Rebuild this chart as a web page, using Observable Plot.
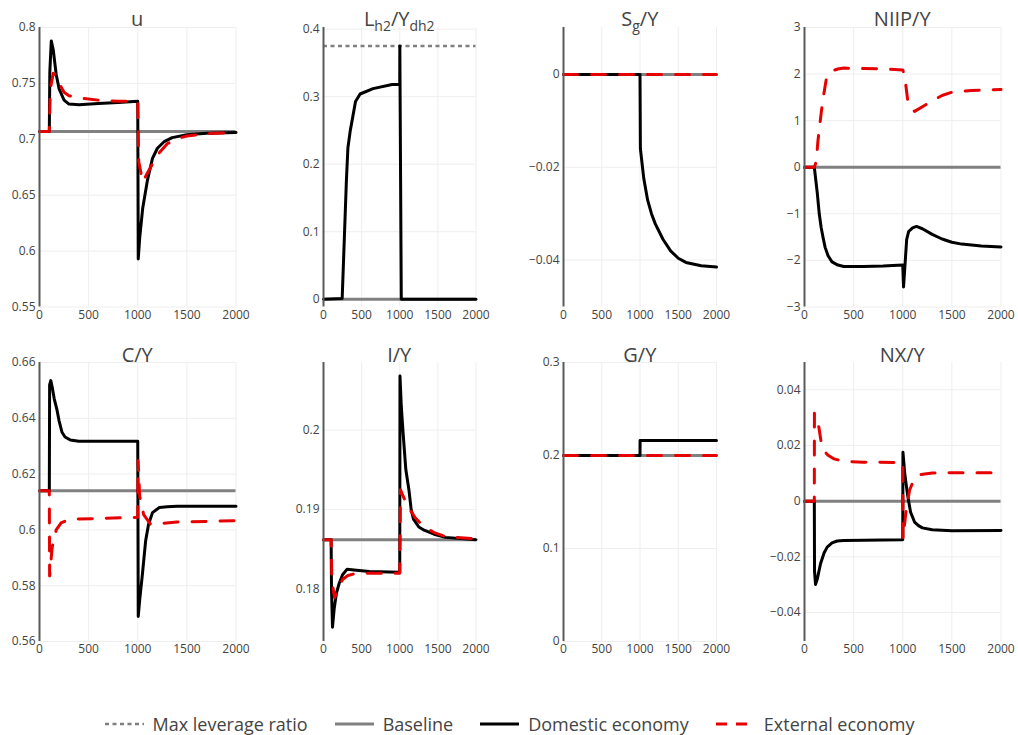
<!DOCTYPE html>
<html>
<head>
<meta charset="utf-8">
<script src="https://cdn.jsdelivr.net/npm/d3@7"></script>
<script src="https://cdn.jsdelivr.net/npm/@observablehq/plot@0.6"></script>
<style>
  body { margin: 0; background: #fff; font-family: "Open Sans", sans-serif; }
  #root { position: relative; width: 1018px; height: 735px; overflow: hidden; background: #fff; }
  .panel { position: absolute; }
  .title { position: absolute; text-align: center; font-size: 20px; line-height: 20px; color: #444; white-space: nowrap; }
  .title sub { font-size: 14px; vertical-align: -5px; line-height: 0; }
  #legend { position: absolute; left: 0; width: 1018px; top: 712px; height: 24px; display: flex; justify-content: center; align-items: center; font-size: 18px; line-height: 24px; color: #444; }
  #legend .item { display: flex; align-items: center; margin: 0 13px; }
  #legend svg { margin-right: 9px; }
</style>
</head>
<body>
<div id="root"></div>
<script>
// ---------- data ----------
const xTicks = [0, 500, 1000, 1500, 2000];

// u (capacity utilisation)
const uBase = 0.707;
const uDomT = [0, 100, 105, 120, 140, 170, 200, 250, 300, 400, 600, 800, 1000, 1005, 1020, 1050, 1100, 1150, 1200, 1270, 1350, 1500, 1700, 2000];
const uDomV = [0.707, 0.707, 0.76, 0.788, 0.78, 0.758, 0.745, 0.735, 0.7315, 0.731, 0.732, 0.733, 0.734, 0.593, 0.612, 0.638, 0.664, 0.683, 0.692, 0.698, 0.7015, 0.704, 0.7055, 0.706];
const uExtT = [0, 100, 110, 140, 170, 200, 250, 300, 400, 600, 800, 1000, 1010, 1050, 1100, 1150, 1200, 1300, 1400, 1500, 1700, 2000];
const uExtV = [0.707, 0.707, 0.745, 0.759, 0.757, 0.75, 0.742, 0.739, 0.737, 0.735, 0.734, 0.734, 0.68, 0.662, 0.67, 0.678, 0.686, 0.696, 0.7005, 0.703, 0.705, 0.706];

// Lh2/Ydh2
const levBase = 0;
const levMax = 0.375;
const levDomT = [0, 245, 300, 320, 350, 420, 480, 650, 900, 1000, 1001, 1020, 2000];
const levDomV = [0, 0.001, 0.175, 0.224, 0.249, 0.293, 0.304, 0.312, 0.318, 0.3185, 0.375, 0, 0];

// Sg/Y
const sgBase = 0;
const sgDomT = [0, 1000, 1005, 1050, 1100, 1150, 1200, 1300, 1400, 1500, 1600, 1800, 2000];
const sgDomV = [0, 0, -0.016, -0.0225, -0.0271, -0.030, -0.0322, -0.0355, -0.038, -0.0396, -0.0405, -0.0412, -0.0415];
const sgExtT = [0, 2000];
const sgExtV = [0, 0];

// NIIP/Y
const niipBase = 0;
const niipDomT = [0, 100, 130, 150, 170, 190, 210, 240, 280, 340, 400, 600, 800, 1000, 1008, 1040, 1060, 1100, 1140, 1200, 1300, 1400, 1500, 1600, 1800, 2000];
const niipDomV = [0, 0, -0.55, -1.0, -1.3, -1.52, -1.72, -1.9, -2.03, -2.1, -2.13, -2.13, -2.12, -2.1, -2.57, -1.55, -1.38, -1.3, -1.27, -1.32, -1.44, -1.54, -1.61, -1.65, -1.69, -1.71];
const niipExtT = [0, 100, 120, 136, 155, 176, 195, 221, 271, 340, 400, 600, 800, 1000, 1020, 1050, 1080, 1120, 1200, 1320, 1400, 1500, 1700, 2000];
const niipExtV = [0, 0, 0.12, 0.55, 0.9, 1.27, 1.55, 1.88, 2.06, 2.11, 2.13, 2.12, 2.11, 2.09, 1.95, 1.45, 1.27, 1.2, 1.3, 1.45, 1.54, 1.61, 1.65, 1.67];

// C/Y
const cBase = 0.614;
const cDomT = [0, 100, 103, 115, 130, 150, 178, 200, 229, 260, 314, 400, 1000, 1005, 1020, 1047, 1080, 1110, 1150, 1220, 1300, 1400, 1600, 2000];
const cDomV = [0.614, 0.614, 0.652, 0.6535, 0.651, 0.647, 0.643, 0.639, 0.635, 0.6333, 0.6322, 0.6318, 0.6318, 0.569, 0.575, 0.584, 0.596, 0.602, 0.6062, 0.608, 0.6083, 0.6085, 0.6085, 0.6085];
const cExtT = [0, 100, 103, 130, 170, 220, 300, 1000, 1003, 1020, 1060, 1130, 1200, 1400, 2000];
const cExtV = [0.614, 0.614, 0.5835, 0.594, 0.600, 0.6025, 0.6038, 0.6045, 0.6248, 0.612, 0.6055, 0.602, 0.6022, 0.6028, 0.6033];

// I/Y
const iBase = 0.1862;
const iDomT = [0, 100, 105, 118, 140, 170, 205, 250, 310, 400, 600, 1000, 1003, 1020, 1045, 1080, 1120, 1150, 1180, 1250, 1320, 1450, 1600, 2000];
const iDomV = [0.1862, 0.1862, 0.18, 0.1752, 0.1775, 0.1795, 0.1807, 0.1818, 0.1825, 0.1824, 0.1822, 0.1821, 0.2068, 0.203, 0.1995, 0.195, 0.1925, 0.190, 0.1888, 0.1878, 0.1874, 0.1869, 0.1865, 0.1862];
const iExtT = [0, 100, 110, 145, 180, 250, 320, 400, 600, 1000, 1010, 1030, 1100, 1200, 1300, 1450, 1600, 2000];
const iExtV = [0.1862, 0.1862, 0.181, 0.1789, 0.1798, 0.1812, 0.1817, 0.1819, 0.182, 0.182, 0.1925, 0.192, 0.1905, 0.189, 0.188, 0.1871, 0.1866, 0.1863];

// G/Y
const gBase = 0.2;
const gDomT = [0, 1000, 1001, 2000];
const gDomV = [0.2, 0.2, 0.216, 0.216];
const gExtT = [0, 2000];
const gExtV = [0.2, 0.2];

// NX/Y
const nxBase = 0;
const nxDomT = [0, 100, 102, 112, 130, 163, 200, 231, 280, 333, 400, 600, 1000, 1002, 1020, 1050, 1080, 1120, 1160, 1200, 1300, 1500, 2000];
const nxDomV = [0, 0, -0.025, -0.0299, -0.028, -0.0225, -0.0185, -0.0165, -0.015, -0.0143, -0.0141, -0.014, -0.0139, 0.0176, 0.010, 0.002, -0.004, -0.0075, -0.0088, -0.0096, -0.0103, -0.0106, -0.0105];
const nxExtT = [0, 100, 101, 146, 170, 196, 240, 298, 400, 600, 1000, 1003, 1035, 1070, 1110, 1170, 1300, 1500, 2000];
const nxExtV = [0, 0, 0.0316, 0.0266, 0.021, 0.0182, 0.0165, 0.0152, 0.0143, 0.014, 0.0139, -0.0134, -0.003, 0.004, 0.0074, 0.0095, 0.0101, 0.0102, 0.0102];

// ---------- layout ----------
const cols = [{x0: 39, w: 196.5}, {x0: 323, w: 152.5}, {x0: 563.3, w: 153}, {x0: 804, w: 196.5}];
const rows = [{y0: 26.5, h: 279.5}, {y0: 362, h: 279}];

const panels = [
  {title: "u", col: 0, row: 0, domain: [0.55, 0.8], ticks: [0.55, 0.6, 0.65, 0.7, 0.75, 0.8], base: uBase, dom: [uDomT, uDomV], ext: [uExtT, uExtV]},
  {title: "L<sub>h2</sub>/Y<sub>dh2</sub>", col: 1, row: 0, domain: [-0.0115, 0.4025], ticks: [0, 0.1, 0.2, 0.3, 0.4], base: levBase, max: levMax, dom: [levDomT, levDomV]},
  {title: "S<sub>g</sub>/Y", col: 2, row: 0, domain: [-0.0501, 0.0101], ticks: [-0.04, -0.02, 0], base: sgBase, dom: [sgDomT, sgDomV], ext: [sgExtT, sgExtV]},
  {title: "NIIP/Y", col: 3, row: 0, domain: [-3, 3], ticks: [-3, -2, -1, 0, 1, 2, 3], base: niipBase, dom: [niipDomT, niipDomV], ext: [niipExtT, niipExtV]},
  {title: "C/Y", col: 0, row: 1, domain: [0.56, 0.66], ticks: [0.56, 0.58, 0.6, 0.62, 0.64, 0.66], base: cBase, dom: [cDomT, cDomV], ext: [cExtT, cExtV]},
  {title: "I/Y", col: 1, row: 1, domain: [0.1734, 0.2085], ticks: [0.18, 0.19, 0.2], base: iBase, dom: [iDomT, iDomV], ext: [iExtT, iExtV]},
  {title: "G/Y", col: 2, row: 1, domain: [0, 0.3], ticks: [0, 0.1, 0.2, 0.3], base: gBase, dom: [gDomT, gDomV], ext: [gExtT, gExtV]},
  {title: "NX/Y", col: 3, row: 1, domain: [-0.0504, 0.0498], ticks: [-0.04, -0.02, 0, 0.02, 0.04], base: nxBase, dom: [nxDomT, nxDomV], ext: [nxExtT, nxExtV]}
];

const GRAY = "#808080", BLACK = "#000", RED = "#e60000";
const ML = 50, MR = 16, MT = 4, MB = 24;
const fmt = d => d === 0 ? "0" : (d < 0 ? "\u2212" : "") + Math.abs(d);
const root = document.getElementById("root");

for (const p of panels) {
  const c = cols[p.col], r = rows[p.row];
  const toRows = ([T, V]) => T.map((t, i) => ({t, v: V[i]}));
  const marks = [
    Plot.gridX(xTicks.filter(d => d > 0), {stroke: "#eee", strokeOpacity: 1, strokeWidth: 1}),
    Plot.gridY(p.ticks, {stroke: "#eee", strokeOpacity: 1, strokeWidth: 1}),
    Plot.ruleY([p.base], {stroke: GRAY, strokeWidth: 3})
  ];
  if (p.max !== undefined) marks.push(Plot.ruleY([p.max], {stroke: GRAY, strokeWidth: 2.5, strokeDasharray: "4,3.5"}));
  marks.push(Plot.line(toRows(p.dom), {x: "t", y: "v", stroke: BLACK, strokeWidth: 3, strokeLinejoin: "round"}));
  if (p.ext) marks.push(Plot.line(toRows(p.ext), {x: "t", y: "v", stroke: RED, strokeWidth: 3, strokeDasharray: "14,14"}));
  marks.push(Plot.ruleX([0], {stroke: "#5a5a5a", strokeWidth: 2}));
  marks.push(Plot.axisX(xTicks, {tickSize: 0, tickPadding: 3, tickFormat: fmt, fontSize: 12, fill: "#444"}));
  marks.push(Plot.axisY(p.ticks, {tickSize: 0, tickPadding: 4, tickFormat: fmt, fontSize: 12, fill: "#444"}));

  const chart = Plot.plot({
    width: ML + c.w + MR,
    height: MT + r.h + MB,
    marginLeft: ML, marginRight: MR, marginTop: MT, marginBottom: MB,
    x: {domain: [0, 2000], label: null},
    y: {domain: p.domain, label: null},
    style: {fontFamily: "Open Sans", fontSize: "12px", color: "#444", background: "transparent", overflow: "visible"},
    marks
  });
  chart.classList.add("panel");
  chart.style.left = (c.x0 - ML) + "px";
  chart.style.top = (r.y0 - MT) + "px";
  root.appendChild(chart);

  const t = document.createElement("div");
  t.className = "title";
  t.innerHTML = p.title;
  t.style.left = c.x0 + "px";
  t.style.width = c.w + "px";
  t.style.top = (p.row === 0 ? 8.5 : 344.5) + "px";
  root.appendChild(t);
}

// ---------- legend ----------
const legendItems = [
  {label: "Max leverage ratio", stroke: GRAY, width: 2.5, dash: "4,3.5"},
  {label: "Baseline", stroke: GRAY, width: 3, dash: null},
  {label: "Domestic economy", stroke: BLACK, width: 3, dash: null},
  {label: "External economy", stroke: RED, width: 3, dash: "11,9"}
];
const legend = document.createElement("div");
legend.id = "legend";
for (const it of legendItems) {
  const item = document.createElement("span");
  item.className = "item";
  item.innerHTML = `<svg width="40" height="10"><line x1="1" y1="5" x2="40" y2="5" stroke="${it.stroke}" stroke-width="${it.width}" ${it.dash ? `stroke-dasharray="${it.dash}"` : ""}/></svg>`;
  item.appendChild(document.createTextNode(it.label));
  legend.appendChild(item);
}
root.appendChild(legend);
</script>
</body>
</html>
